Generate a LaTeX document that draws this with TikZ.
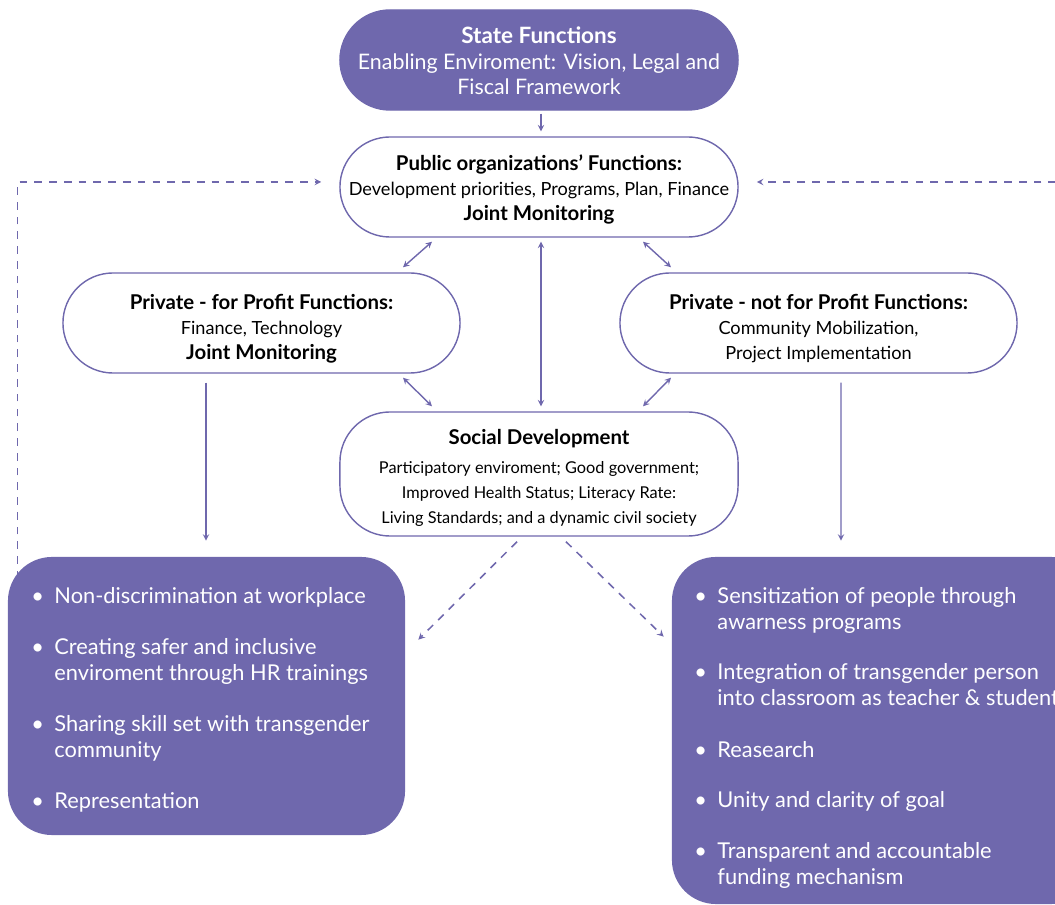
\documentclass[tikz,border=0pt]{standalone}
\usepackage{fontspec}
\setmainfont{Lato}
\usetikzlibrary{arrows,positioning,calc}
\definecolor{fpurple}{RGB}{111,104,173}
\newcommand{\headtxt}[1]{{\fontsize{14.5}{17.8}\selectfont\bfseries #1}}
\newcommand{\smalltxt}{\fontsize{11.6}{16.7}\selectfont}
\newcommand{\topgap}[1]{\rule{0pt}{#1}}

\begin{document}
\begin{tikzpicture}[x=0.025cm, y=-0.025cm,
    pill/.style={rectangle, draw=fpurple, fill=white, line width=1pt, rounded corners=1.25cm, minimum width=9.95cm, minimum height=2.5cm, align=center, inner sep=0pt, font=\fontsize{12.9}{17.8}\selectfont},
    listbox/.style={rectangle, fill=fpurple, rounded corners=1.1cm, inner sep=0pt},
    item/.style={anchor=base west, inner sep=0pt, text=white, font=\fontsize{15.5}{18}\selectfont},
    arr/.style={->, >=stealth, line width=1pt, color=fpurple},
    dbl/.style={<->, >=stealth, line width=1pt, color=fpurple},
    dasharr/.style={->, >=stealth, line width=1.1pt, color=fpurple, dash pattern=on 5.5pt off 5pt}
]
\useasboundingbox (0,0) rectangle (1055,905);

% Main nodes
\node[pill, fill=fpurple, draw=fpurple, text=white, font=\fontsize{15.2}{18.1}\selectfont] (state) at (539,60)
    {\topgap{13pt}{\fontsize{16}{18.1}\selectfont\bfseries State Functions}\\Enabling Enviroment: Vision, Legal and\\Fiscal Framework};
\node[pill] (pub) at (539,187)
    {\topgap{15pt}\headtxt{Public organizations’ Functions:}\\Development priorities, Programs, Plan, Finance\\\headtxt{Joint Monitoring}};
\node[pill, minimum width=9.925cm] (fp) at (261.5,323)
    {\topgap{18.5pt}\headtxt{Private - for Profit Functions:}\\Finance, Technology\\\headtxt{Joint Monitoring}};
\node[pill, minimum width=9.925cm] (nfp) at (818.5,323)
    {\topgap{18.5pt}\headtxt{Private - not for Profit Functions:}\\Community Mobilization,\\Project Implementation};
\node[pill, minimum height=3.1cm] (soc) at (539,474)
    {\topgap{16pt}\headtxt{Social Development}\\[3pt]\smalltxt Participatory enviroment; Good government;\\\smalltxt Improved Health Status; Literacy Rate:\\\smalltxt Living Standards; and a dynamic civil society};

% Bottom lists
\node[listbox, minimum width=9.925cm, minimum height=6.95cm] (lbox) at (206.5,696) {};
\node[listbox, minimum width=10.575cm, minimum height=8.675cm] (rbox) at (883.5,730.5) {};

\node[item] (l1) at (31,604) {\begin{tabular}[t]{@{}p{16.5pt}@{}l@{}}\textbullet & Non-discrimination at workplace\end{tabular}};
\node[item] (l2) at (31,655) {\begin{tabular}[t]{@{}p{16.5pt}@{}l@{}}\textbullet & Creating safer and inclusive\\ & enviroment through HR trainings\end{tabular}};
\node[item] (l3) at (31,732) {\begin{tabular}[t]{@{}p{16.5pt}@{}l@{}}\textbullet & Sharing skill set with transgender\\ & community\end{tabular}};
\node[item] (l4) at (31,809) {\begin{tabular}[t]{@{}p{16.5pt}@{}l@{}}\textbullet & Representation\end{tabular}};

\node[item] (r1) at (694,604) {\begin{tabular}[t]{@{}p{16.5pt}@{}l@{}}\textbullet & Sensitization of people through\\ & awarness programs\end{tabular}};
\node[item] (r2) at (694,680) {\begin{tabular}[t]{@{}p{16.5pt}@{}l@{}}\textbullet & Integration of transgender person\\ & into classroom as teacher \& student\end{tabular}};
\node[item] (r3) at (694,757) {\begin{tabular}[t]{@{}p{16.5pt}@{}l@{}}\textbullet & Reasearch\end{tabular}};
\node[item] (r4) at (694,808) {\begin{tabular}[t]{@{}p{16.5pt}@{}l@{}}\textbullet & Unity and clarity of goal\end{tabular}};
\node[item] (r5) at (694,859) {\begin{tabular}[t]{@{}p{16.5pt}@{}l@{}}\textbullet & Transparent and accountable\\ & funding mechanism\end{tabular}};

% Arrows between functions
\draw[arr] ($(state.south)+(2,3)$) -- ($(pub.north)+(2,-5)$);
\draw[dbl] ($(pub.south)+(-107,4)$) -- ($(fp.north)+(141.5,-5)$);
\draw[dbl] ($(pub.south)+(104,4)$) -- ($(nfp.north)+(-147.5,-5)$);
\draw[dbl] ($(pub.south)+(2,4)$) -- ($(soc.north)+(2,-5)$);
\draw[dbl] ($(fp.south)+(141.5,4)$) -- ($(soc.north)+(-107,-5)$);
\draw[dbl] ($(nfp.south)+(-147.5,4)$) -- ($(soc.north)+(104,-5)$);

% Down to the lists
\draw[arr] ($(fp.south)+(-55.5,9)$) -- ($(lbox.north)+(-0.5,-16)$);
\draw[arr] ($(nfp.south)+(22.5,9)$) -- ($(rbox.north)+(-42.5,-16)$);
\draw[dasharr] ($(soc.south)+(-22,5)$) -- ($(lbox.north east)+(13,83)$);
\draw[dasharr] ($(soc.south)+(27,5)$) -- ($(rbox.north west)+(-8,80)$);

% Feedback loops
\coordinate (lback) at ($(lbox.north west)+(10,22)$);
\coordinate (rback) at ($(rbox.north east)+(-30,0)$);
\draw[dasharr, shorten >=0.45cm] (lback) |- ($(pub.west)+(0,-5)$);
\draw[dasharr, shorten >=0.45cm] (rback) |- ($(pub.east)+(0,-5)$);
\end{tikzpicture}
\end{document}
